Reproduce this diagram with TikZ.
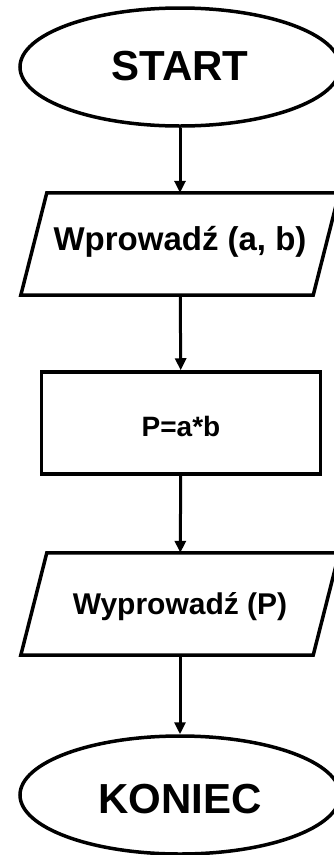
\documentclass[tikz,border=0pt]{standalone}
\usepackage{fontspec}
\setmainfont{Liberation Sans}
\usetikzlibrary{arrows.meta,shapes.geometric}

\begin{document}
\begin{tikzpicture}[
                    x=1pt, y=-1pt,
                    terminal style/.style={
                        ellipse,
                        draw=black,
                        line width=3.5pt,
                        fill=white,
                        inner sep=0pt,
                        minimum width=320pt,
                        minimum height=118pt,
                        font=\bfseries\fontsize{42}{48}\selectfont
                    },
                    io style/.style={
                        rectangle,
                        inner sep=0pt,
                        minimum width=292pt,
                        minimum height=102pt
                    },
                    io border/.style={draw=black, line width=3.5pt, line join=miter},
                    process style/.style={
                        rectangle,
                        draw=black,
                        line width=3.5pt,
                        fill=white,
                        inner sep=0pt,
                        minimum width=279pt,
                        minimum height=102pt,
                        font=\bfseries\fontsize{28}{32}\selectfont
                    },
                    flow arrow/.style={draw, line width=3pt, -{Triangle[length=12pt,width=11pt]}}
                ]
                    \useasboundingbox (0,0) rectangle (334,855);
                    % shapes from top to bottom
                    \node[terminal style, text height=32pt, text depth=6pt] (start) at (180,67) {START};
                    \node[io style, font=\bfseries\fontsize{33}{36}\selectfont,
                          text height=22pt, text depth=10pt] (input) at (180,244) {Wprowadź (a, b)};
                    \node[process style, text height=26pt, text depth=0pt] (calc) at (181,423) {P=a*b};
                    \node[io style, font=\bfseries\fontsize{30}{34}\selectfont,
                          text height=21pt, text depth=0pt] (output) at (180,604) {Wyprowadź (P)};
                    \node[terminal style, text height=36pt, text depth=0pt] (stop) at (180,795) {KONIEC};
                    % slanted borders of the input/output boxes
                    \foreach \io in {input,output}
                        \draw[io border] ([xshift=-13pt]\io.south west) -- ([xshift=-13pt]\io.south east)
                            -- ([xshift=13pt]\io.north east) -- ([xshift=13pt]\io.north west) -- cycle;
                    % connectors
                    \draw[flow arrow] (start) -- (input);
                    \draw[flow arrow] (input) -- (calc);
                    \draw[flow arrow] (calc) -- (output);
                    \draw[flow arrow] (output) -- (stop);
                \end{tikzpicture}
\end{document}
